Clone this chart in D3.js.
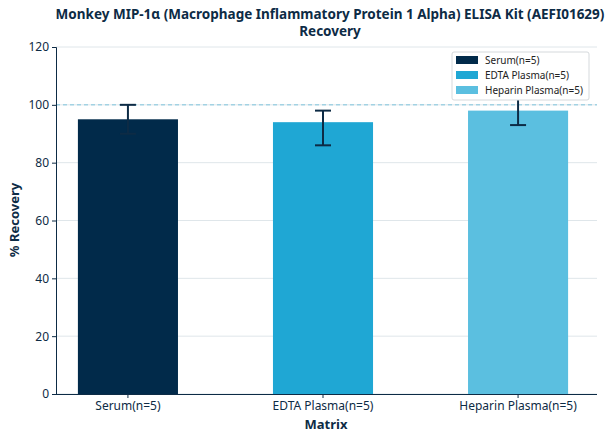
<!DOCTYPE html>
<html><head><meta charset="utf-8">
<script src="https://cdn.jsdelivr.net/npm/d3@7"></script>
<style>body{margin:0;background:#fff;font-family:"Noto Sans",sans-serif}</style>
</head><body><svg width="608" height="439"></svg>
<script>
const categories = ["Serum(n=5)", "EDTA Plasma(n=5)", "Heparin Plasma(n=5)"];
const means = [95, 94, 98];
const errLow = [90, 86, 93];
const errHigh = [100, 98, 103];
const colors = ["#012a4a", "#1fa7d4", "#5bbfe0"];
const yTicks = [0, 20, 40, 60, 80, 100, 120];

const svg = d3.select("svg");
const ink = "#0d2b45";

const x = d3.scaleBand().domain(categories).range([30.5, 615.5]).paddingInner(0.487).paddingOuter(0.243);
const y = d3.scaleLinear().domain([0, 120]).range([394, 47]);

// grid
svg.append("g").selectAll("line").data(yTicks).enter().append("line")
    .attr("x1", 56).attr("x2", 597)
    .attr("y1", d => y(d)).attr("y2", d => y(d))
    .attr("stroke", "#dfe6ea").attr("stroke-width", 1);

svg.selectAll(".bar").data(categories).enter().append("rect")
    .attr("x", d => x(d)).attr("width", x.bandwidth())
    .attr("y", (d, i) => y(means[i])).attr("height", (d, i) => y(0) - y(means[i]))
    .attr("fill", (d, i) => colors[i]);

// reference line
svg.append("line").attr("x1", 56).attr("x2", 597)
    .attr("y1", y(100)).attr("y2", y(100))
    .attr("stroke", "#7fc4dc").attr("stroke-dasharray", "4,3");

// error bars
const eb = svg.append("g").attr("stroke", ink).attr("stroke-width", 2);
categories.forEach((c, i) => {
    const cx = x(c) + x.bandwidth() / 2;
    eb.append("line").attr("x1", cx).attr("x2", cx).attr("y1", y(errLow[i])).attr("y2", y(errHigh[i]));
    [errLow[i], errHigh[i]].forEach(v => eb.append("line")
        .attr("x1", cx - 8).attr("x2", cx + 8).attr("y1", y(v)).attr("y2", y(v)));
});

// axes
const ya = svg.append("g").attr("transform", "translate(56,0)")
    .call(d3.axisLeft(y).tickValues(yTicks).tickSize(4));
ya.select(".domain").attr("stroke", ink);
ya.selectAll("text").attr("font-size", 12).attr("fill", ink).attr("font-family", "Noto Sans");
ya.selectAll(".tick line").attr("stroke", ink);

const xa = svg.append("g").attr("transform", "translate(0,394)")
    .call(d3.axisBottom(x).tickSize(4).tickSizeOuter(0));
xa.select(".domain").remove();
xa.selectAll("text").attr("font-size", 12).attr("fill", ink).attr("font-family", "Noto Sans");
xa.selectAll(".tick line").attr("stroke", ink);
svg.append("line").attr("x1", 56).attr("x2", 597).attr("y1", 394.5).attr("y2", 394.5).attr("stroke", ink);

// titles
svg.append("text").attr("x", 330).attr("y", 19).attr("text-anchor", "middle")
    .attr("font-size", 13.5).attr("font-weight", "bold").attr("fill", ink)
    .text("Monkey MIP-1α (Macrophage Inflammatory Protein 1 Alpha) ELISA Kit (AEFI01629)");
svg.append("text").attr("x", 330).attr("y", 36).attr("text-anchor", "middle")
    .attr("font-size", 13.5).attr("font-weight", "bold").attr("fill", ink).text("Recovery");
svg.append("text").attr("x", 326).attr("y", 429).attr("text-anchor", "middle")
    .attr("font-size", 13).attr("font-weight", "bold").attr("fill", ink).text("Matrix");
svg.append("text").attr("transform", "translate(19,220) rotate(-90)").attr("text-anchor", "middle")
    .attr("font-size", 13).attr("font-weight", "bold").attr("fill", ink).text("% Recovery");

// legend
const lg = svg.append("g").attr("transform", "translate(452,52)");
lg.append("rect").attr("width", 137).attr("height", 48).attr("rx", 2)
    .attr("fill", "#fff").attr("stroke", "#d5d9dc");
categories.forEach((c, i) => {
    lg.append("rect").attr("x", 4).attr("y", 4 + i * 15).attr("width", 22).attr("height", 8).attr("fill", colors[i]);
    lg.append("text").attr("x", 33).attr("y", 12 + i * 15).attr("font-size", 10).attr("fill", "#222").text(c);
});
</script></body></html>
